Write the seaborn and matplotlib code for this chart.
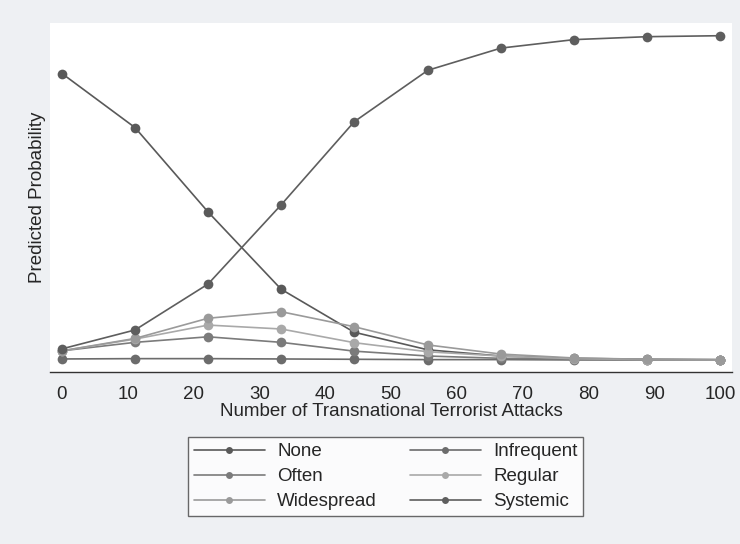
import pandas as pd
import matplotlib.pyplot as plt
import seaborn as sns

# values (predicted probabilities)
attacks = [0, 11.1, 22.2, 33.3, 44.4, 55.6, 66.7, 77.8, 88.9, 100]
none = [0.879, 0.713, 0.454, 0.217, 0.085, 0.031, 0.012, 0.005, 0.002, 0.001]
infrequent = [0.003, 0.004, 0.004, 0.003, 0.002, 0.001, 0.001, 0.0, 0.0, 0.0]
often = [0.028, 0.054, 0.071, 0.054, 0.027, 0.012, 0.005, 0.002, 0.001, 0.0]
regular = [0.028, 0.064, 0.107, 0.095, 0.053, 0.025, 0.012, 0.004, 0.001, 0.0]
widespread = [0.028, 0.066, 0.128, 0.148, 0.102, 0.046, 0.018, 0.006, 0.002, 0.001]
systemic = [0.034, 0.092, 0.233, 0.476, 0.731, 0.889, 0.957, 0.983, 0.992, 0.995]

levels = ["None", "Infrequent", "Often", "Regular", "Widespread", "Systemic"]
colors = ["#595959", "#6c6c6c", "#7b7b7b", "#a9a9a9", "#9a9a9a", "#5e5e5e"]

series = [none, infrequent, often, regular, widespread, systemic]
df = pd.concat([pd.DataFrame({"attacks": attacks, "prob": s, "level": lv})
                for lv, s in zip(levels, series)], ignore_index=True)

sns.set_style("white")
plt.rcParams['font.family'] = ['Liberation Sans', 'DejaVu Sans']

fs = 13.5
fig = plt.figure(figsize=(7.4, 5.44), dpi=100, facecolor="#eef0f3")
ax = fig.add_axes([50 / 740, 1 - 372 / 544, 682 / 740, 349 / 544])
ax.set_facecolor("white")

sns.lineplot(data=df, x="attacks", y="prob", hue="level", hue_order=levels,
             palette=colors, marker="o", markersize=7, markeredgewidth=0,
             linewidth=1.2, ax=ax, legend=False)

ax.set_xlim(-1.82, 101.8)
ax.set_ylim(-0.037, 1.034)
ax.set_xticks(range(0, 101, 10))
ax.set_yticks([])
ax.tick_params(axis="x", length=6, width=1, color="#333333", labelsize=fs, pad=4)
for side in ["top", "right", "left"]:
    ax.spines[side].set_visible(False)
ax.spines["bottom"].set_color("#333333")
ax.spines["bottom"].set_linewidth(1)
ax.set_xlabel("Number of Transnational Terrorist Attacks", fontsize=fs, labelpad=0)
ax.set_ylabel("Predicted Probability", fontsize=fs, labelpad=3)

# legend, two columns in Stata order
handles = [plt.Line2D([], [], color=c, marker="o", markersize=5, markeredgewidth=0,
                      linewidth=1.2) for c in colors]
order = [0, 2, 4, 1, 3, 5]
leg = fig.legend([handles[i] for i in order], [levels[i] for i in order],
                 ncol=2, loc="center", bbox_to_anchor=(385.5 / 740, 1 - 476.5 / 544),
                 fontsize=fs, frameon=True, fancybox=False, handlelength=3.8,
                 columnspacing=1.75, handletextpad=0.65, labelspacing=0.42,
                 borderpad=0.3, borderaxespad=0)
leg.get_frame().set_edgecolor("#444444")
leg.get_frame().set_linewidth(1)
leg.get_frame().set_facecolor("white")

fig.savefig("out.png", dpi=100, facecolor=fig.get_facecolor())
